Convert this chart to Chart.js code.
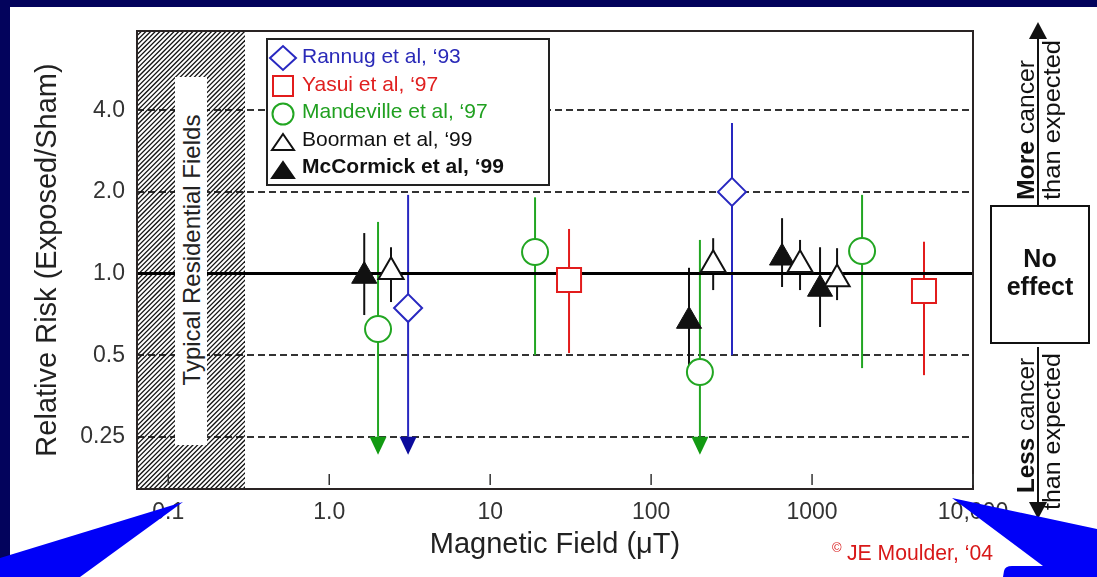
<!DOCTYPE html>
<html>
<head>
<meta charset="utf-8">
<script src="https://cdn.jsdelivr.net/npm/chart.js@4.4.1/dist/chart.umd.min.js"></script>
<style>
  html, body { margin: 0; padding: 0; }
  body { width: 1097px; height: 577px; background: #03035c; position: relative; overflow: hidden; }
  #panel { position: absolute; left: 10px; top: 7px; right: 0; bottom: 0; background: #fff; }
  #chart { position: absolute; left: 0; top: 0; }
  #overlay { position: absolute; left: 0; top: 0; }
</style>
</head>
<body>
<div id="panel"></div>
<canvas id="chart" width="1097" height="577"></canvas>
<svg id="overlay" width="1097" height="577" xmlns="http://www.w3.org/2000/svg" font-family="Liberation Sans, Arial, sans-serif">
  <!-- label box inside the hatched band -->
  <rect x="175" y="77" width="32" height="368" fill="#fff"/>
  <text transform="translate(200,250) rotate(-90)" text-anchor="middle" font-size="24" fill="#222">Typical Residential Fields</text>

  <g id="legend"></g>

  <!-- right side annotation -->
  <line x1="1038" y1="36" x2="1038" y2="206" stroke="#111" stroke-width="2"/>
  <polygon points="1038,22 1029,39 1047,39" fill="#111"/>
  <rect x="991" y="206" width="98" height="137" fill="#fff" stroke="#111" stroke-width="2"/>
  <text x="1040" y="267" text-anchor="middle" font-size="25" font-weight="bold" fill="#111">No</text>
  <text x="1040" y="295" text-anchor="middle" font-size="25" font-weight="bold" fill="#111">effect</text>
  <line x1="1038" y1="347" x2="1038" y2="505" stroke="#111" stroke-width="2"/>
  <polygon points="1029,502 1047,502 1038,519" fill="#111"/>
  <text transform="translate(1034,200) rotate(-90)" font-size="23" fill="#111" textLength="140" lengthAdjust="spacingAndGlyphs"><tspan font-weight="bold">More</tspan> cancer</text>
  <text transform="translate(1060,200) rotate(-90)" font-size="23" fill="#111" textLength="160" lengthAdjust="spacingAndGlyphs">than expected</text>
  <text transform="translate(1034,493) rotate(-90)" font-size="23" fill="#111" textLength="135" lengthAdjust="spacingAndGlyphs"><tspan font-weight="bold">Less</tspan> cancer</text>
  <text transform="translate(1060,510) rotate(-90)" font-size="23" fill="#111" textLength="157" lengthAdjust="spacingAndGlyphs">than expected</text>

  <!-- credit -->
  <text x="832" y="552" font-size="13" fill="#d81818">©</text>
  <text x="847" y="560" font-size="22" fill="#d81818" textLength="146" lengthAdjust="spacingAndGlyphs">JE Moulder, ‘04</text>

  <!-- slide callouts -->
  <polygon points="183,502 0,558 0,577 80,577" fill="#0000f8"/>
  <path d="M952,498 L1097,529 L1097,577 L1003,577 L1004,571 Q1005,566 1012,566 L1043,566 Z" fill="#0000f8"/>
</svg>

<script>
// axis limits and ticks
const xMin = 0.0639, xMax = 10000;
const yMin = 0.1605, yMax = 7.84;
const xTickValues = [0.1, 1, 10, 100, 1000, 10000];
const xTickLabels = ["0.1", "1.0", "10", "100", "1000", "10,000"];
const yTickValues = [0.25, 0.5, 1, 2, 4];
const yTickLabels = ["0.25", "0.5", "1.0", "2.0", "4.0"];
const refLevel = 1.0;
const residentialMax = 0.3;
const arrowFloor = 0.25;

const studies = ["Rannug et al, ‘93", "Yasui et al, ‘97", "Mandeville et al, ‘97", "Boorman et al, ‘99", "McCormick et al, ‘99"];

// null low = interval runs off the bottom of the scale (arrow)
const rannugField = [3.09, 318];
const rannugRisk = [0.746, 2.0];
const rannugLow = [null, 0.5];
const rannugHigh = [1.95, 3.59];

const yasuiField = [30.9, 4960];
const yasuiRisk = [0.946, 0.862];
const yasuiLow = [0.509, 0.422];
const yasuiHigh = [1.46, 1.31];

const mandevilleField = [2.01, 19.0, 201, 2045];
const mandevilleRisk = [0.624, 1.2, 0.433, 1.21];
const mandevilleLow = [null, 0.5, null, 0.448];
const mandevilleHigh = [1.55, 1.91, 1.33, 1.95];

const boormanField = [2.42, 243, 842, 1430];
const boormanRisk = [1.015, 1.078, 1.078, 0.954];
const boormanLow = [0.785, 0.869, 0.869, 0.798];
const boormanHigh = [1.25, 1.35, 1.33, 1.24];

const mccormickField = [1.65, 172, 651, 1121];
const mccormickRisk = [0.979, 0.668, 1.143, 0.877];
const mccormickLow = [0.703, 0.46, 0.892, 0.635];
const mccormickHigh = [1.41, 1.05, 1.60, 1.25];

const blue = "#2828c0", red = "#e21c1c", green = "#22a622", black = "#111";

const points = (fields, risks) => fields.map((f, i) => ({ x: f, y: risks[i] }));

const errorSeries = [
  { field: rannugField, low: rannugLow, high: rannugHigh, color: blue, arrow: "#0c0c9c" },
  { field: yasuiField, low: yasuiLow, high: yasuiHigh, color: red, arrow: red },
  { field: mandevilleField, low: mandevilleLow, high: mandevilleHigh, color: green, arrow: "#129a12" },
  { field: boormanField, low: boormanLow, high: boormanHigh, color: black, arrow: black },
  { field: mccormickField, low: mccormickLow, high: mccormickHigh, color: black, arrow: black }
];

// hatch band, error bars, frame and inner x ticks
const extras = {
  id: "extras",
  beforeDatasetsDraw(chart) {
    const { ctx, chartArea: a, scales: { x, y } } = chart;
    const hx = x.getPixelForValue(residentialMax);
    const h = a.bottom - a.top;
    ctx.save();
    ctx.beginPath();
    ctx.rect(a.left, a.top, hx - a.left, h);
    ctx.clip();
    ctx.strokeStyle = "#111";
    ctx.lineWidth = 1.3;
    for (let sx = a.left - h; sx < hx; sx += 4.7) {
      ctx.beginPath();
      ctx.moveTo(sx, a.bottom);
      ctx.lineTo(sx + h, a.top);
      ctx.stroke();
    }
    ctx.restore();

    ctx.save();
    ctx.lineWidth = 2;
    errorSeries.forEach(s => {
      s.field.forEach((f, i) => {
        const px = x.getPixelForValue(f);
        const top = y.getPixelForValue(s.high[i]);
        const low = s.low[i];
        const bot = y.getPixelForValue(low === null ? arrowFloor : low);
        ctx.strokeStyle = s.color;
        ctx.beginPath();
        ctx.moveTo(px, top);
        ctx.lineTo(px, bot);
        ctx.stroke();
        if (low === null) {
          ctx.fillStyle = s.arrow;
          ctx.beginPath();
          ctx.moveTo(px - 8.5, bot);
          ctx.lineTo(px + 8.5, bot);
          ctx.lineTo(px, bot + 18);
          ctx.closePath();
          ctx.fill();
        }
      });
    });
    ctx.restore();
  },
  afterDatasetsDraw(chart) {
    const { ctx, chartArea: a, scales: { x } } = chart;
    ctx.save();
    ctx.strokeStyle = "#2a2424";
    ctx.lineWidth = 2;
    ctx.strokeRect(a.left, a.top, a.right - a.left, a.bottom - a.top);
    ctx.lineWidth = 1.5;
    ctx.strokeStyle = "#333";
    xTickValues.forEach(v => {
      const px = x.getPixelForValue(v);
      ctx.beginPath();
      ctx.moveTo(px, a.bottom - 15);
      ctx.lineTo(px, a.bottom - 4);
      ctx.stroke();
    });
    ctx.restore();
  }
};

const font = "'Liberation Sans', Arial, sans-serif";

new Chart(document.getElementById("chart"), {
  type: "scatter",
  data: {
    datasets: [
      { label: studies[0], data: points(rannugField, rannugRisk), pointStyle: "rectRot", pointRadius: 14,
        borderColor: blue, backgroundColor: "#fff", borderWidth: 2 },
      { label: studies[1], data: points(yasuiField, yasuiRisk), pointStyle: "rect", pointRadius: 17,
        borderColor: red, backgroundColor: "#fff", borderWidth: 2 },
      { label: studies[2], data: points(mandevilleField, mandevilleRisk), pointStyle: "circle", pointRadius: 13,
        borderColor: green, backgroundColor: "#fff", borderWidth: 2 },
      { label: studies[3], data: points(boormanField, boormanRisk), pointStyle: "triangle", pointRadius: 14.5,
        borderColor: black, backgroundColor: "#fff", borderWidth: 2 },
      { label: studies[4], data: points(mccormickField, mccormickRisk), pointStyle: "triangle", pointRadius: 14.5,
        borderColor: black, backgroundColor: black, borderWidth: 1 },
      { label: "no effect", data: [{ x: xMin, y: refLevel }, { x: xMax, y: refLevel }], showLine: true,
        borderColor: "#000", borderWidth: 3, pointRadius: 0, order: 10 }
    ]
  },
  options: {
    responsive: false,
    animation: false,
    events: [],
    layout: { padding: { left: 0, top: 31, right: 124, bottom: 0 } },
    plugins: { legend: { display: false }, tooltip: { enabled: false } },
    scales: {
      x: {
        type: "logarithmic",
        min: xMin,
        max: xMax,
        afterBuildTicks: s => { s.ticks = xTickValues.map(v => ({ value: v })); },
        afterFit: s => { s.height = 88; },
        grid: { display: false },
        border: { display: false },
        ticks: {
          autoSkip: false, maxRotation: 0, padding: 2, color: "#333",
          font: { family: font, size: 23 },
          callback: v => xTickLabels[xTickValues.indexOf(v)]
        },
        title: {
          display: true, text: "Magnetic Field (μT)", color: "#222",
          font: { family: font, size: 29 }, padding: { top: 0, bottom: 15 }
        }
      },
      y: {
        type: "logarithmic",
        min: yMin,
        max: yMax,
        afterBuildTicks: s => { s.ticks = yTickValues.map(v => ({ value: v })); },
        afterFit: s => { s.width = 137; },
        grid: { color: "#333", lineWidth: 2, drawTicks: false },
        border: { display: false, dash: [7, 4] },
        ticks: {
          autoSkip: false, padding: 12, color: "#333",
          font: { family: font, size: 23 },
          callback: v => yTickLabels[yTickValues.indexOf(v)]
        },
        title: {
          display: true, text: "Relative Risk (Exposed/Sham)", color: "#222",
          font: { family: font, size: 29 }, padding: { top: 31, bottom: 0 }
        }
      }
    }
  },
  plugins: [extras]
});

// legend box built from the study list
const legendStyles = [
  { color: blue, text: "#2a2ab8", shape: "diamond" },
  { color: red, text: "#e02020", shape: "square" },
  { color: green, text: "#20a020", shape: "circle" },
  { color: black, text: "#111", shape: "triangle" },
  { color: black, text: "#111", shape: "filled", bold: true }
];
let svg = '<rect x="267" y="39" width="282" height="146" fill="#fff" stroke="#222" stroke-width="2"/>';
studies.forEach((name, i) => {
  const st = legendStyles[i];
  const cy = 58 + i * 28;
  const cx = 283;
  const sw = 'stroke="' + st.color + '" stroke-width="2"';
  if (st.shape === "diamond") {
    svg += `<polygon points="${cx - 13},${cy} ${cx},${cy - 12} ${cx + 13},${cy} ${cx},${cy + 12}" fill="#fff" ${sw}/>`;
  } else if (st.shape === "square") {
    svg += `<rect x="${cx - 10}" y="${cy - 10}" width="20" height="20" fill="#fff" ${sw}/>`;
  } else if (st.shape === "circle") {
    svg += `<circle cx="${cx}" cy="${cy}" r="10.5" fill="#fff" ${sw}/>`;
  } else {
    const fill = st.shape === "filled" ? st.color : "#fff";
    svg += `<polygon points="${cx},${cy - 8} ${cx + 11},${cy + 8} ${cx - 11},${cy + 8}" fill="${fill}" ${sw}/>`;
  }
  svg += `<text x="302" y="${63 + i * 27.5}" font-size="21" fill="${st.text}"${st.bold ? ' font-weight="bold"' : ''}>${name}</text>`;
});
document.getElementById("legend").innerHTML = svg;
</script>
</body>
</html>
